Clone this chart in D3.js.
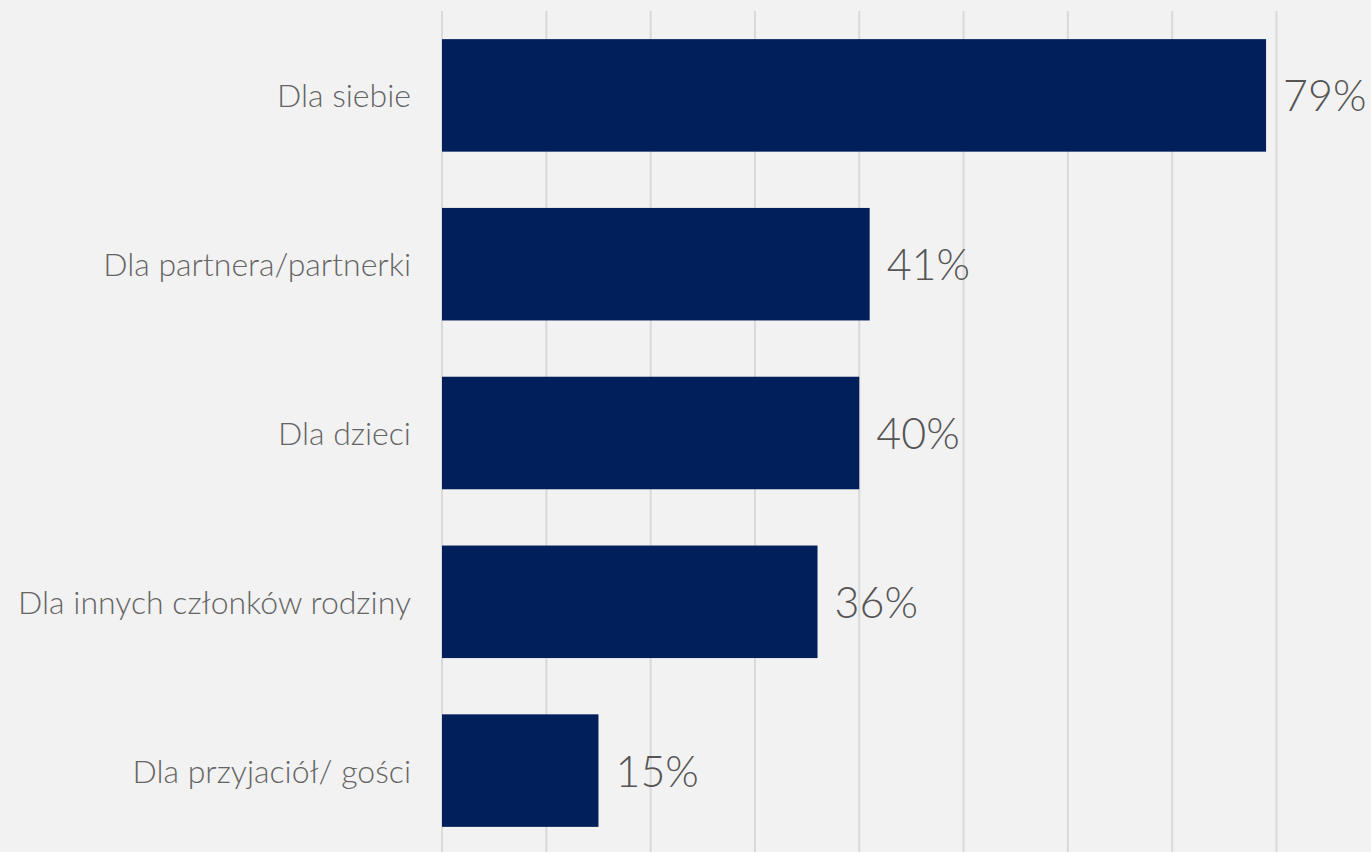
<!DOCTYPE html>
<html>
<head>
<meta charset="utf-8">
<script src="https://cdn.jsdelivr.net/npm/d3@7"></script>
<style>
  html, body { margin: 0; padding: 0; background: #f2f2f2; }
  svg { display: block; }
  text { font-family: Lato, "Noto Sans", sans-serif; font-weight: 300; }
</style>
</head>
<body>
<svg id="chart" width="1371" height="852"></svg>
<script>
// Answer categories and shares (%)
const categories = [
  "Dla siebie",
  "Dla partnera/partnerki",
  "Dla dzieci",
  "Dla innych członków rodziny",
  "Dla przyjaciół/ gości"
];
const values = [79, 41, 40, 36, 15];
const gridTicks = [0, 10, 20, 30, 40, 50, 60, 70, 80];

const svg = d3.select("#chart");
const W = 1371, H = 852;

const x = d3.scaleLinear().domain([0, 80]).range([442, 1276.5]);
const y = d3.scaleBand().domain(categories).range([11, 855])
  .paddingInner(1 / 3).paddingOuter(1 / 6);

svg.append("rect").attr("width", W).attr("height", H).attr("fill", "#f2f2f2");

// vertical gridlines
svg.append("g").selectAll("line").data(gridTicks).join("line")
  .attr("x1", d => x(d)).attr("x2", d => x(d))
  .attr("y1", 11).attr("y2", H)
  .attr("stroke", "#d9d9d9").attr("stroke-width", 2);

// bars
svg.append("g").selectAll("rect").data(values).join("rect")
  .attr("x", x(0))
  .attr("y", (d, i) => y(categories[i]))
  .attr("width", d => x(d) - x(0))
  .attr("height", y.bandwidth())
  .attr("fill", "#001f5b");

// category labels
svg.append("g").selectAll("text").data(categories).join("text")
  .attr("x", x(0) - 31)
  .attr("y", d => y(d) + y.bandwidth() / 2 + 12)
  .attr("text-anchor", "end")
  .attr("font-size", 32)
  .attr("fill", "#656565")
  .text(d => d);

// value labels
svg.append("g").selectAll("text").data(values).join("text")
  .attr("x", d => x(d) + 17)
  .attr("y", (d, i) => y(categories[i]) + y.bandwidth() / 2 + 16)
  .attr("font-size", 43)
  .attr("fill", "#555555")
  .text(d => d + "%");
</script>
</body>
</html>
